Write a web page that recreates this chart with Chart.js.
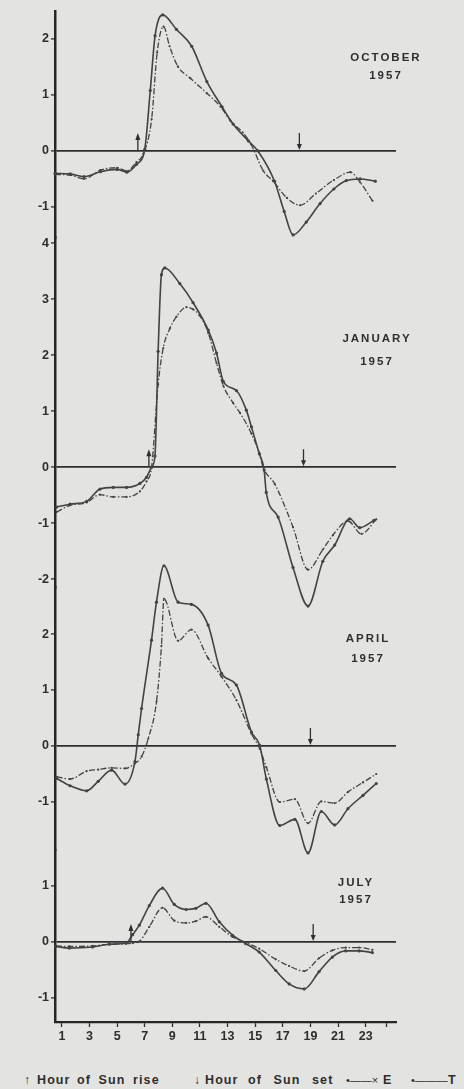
<!DOCTYPE html>
<html>
<head>
<meta charset="utf-8">
<script src="https://cdn.jsdelivr.net/npm/chart.js@4.4.1/dist/chart.umd.min.js"></script>
<style>
  body { margin: 0; background: #e3e3e1; width: 464px; height: 1089px; overflow: hidden; position: relative; font-family: "Liberation Sans", sans-serif; color: #2e2e2e; }
  #wrap { position: absolute; left: 0; top: 0; width: 464px; height: 1058px; }
  .month { position: absolute; width: 120px; text-align: center; font-size: 11.5px; font-weight: bold; letter-spacing: 2px; }
  .leg { position: absolute; top: 1072px; font-size: 12.5px; font-weight: bold; line-height: 16px; letter-spacing: 1.1px; white-space: nowrap; }
</style>
</head>
<body>
<div id="wrap"><canvas id="chart"></canvas></div>

<div class="month" style="left:326px; top:48px; line-height:18px;">OCTOBER<br>1957</div>
<div class="month" style="left:317px; top:327px; line-height:23px;">JANUARY<br>1957</div>
<div class="month" style="left:308px; top:628px; line-height:20px;">APRIL<br>1957</div>
<div class="month" style="left:296px; top:874px; line-height:17px;">JULY<br>1957</div>

<span class="leg" style="left:24px; font-size:12px; font-weight:normal;">↑</span>
<span class="leg" style="left:37px;">Hour</span>
<span class="leg" style="left:77px; word-spacing:3px;">of Sun rise</span>
<span class="leg" style="left:194px; font-size:12px; font-weight:normal;">↓</span>
<span class="leg" style="left:205px;">Hour</span>
<span class="leg" style="left:248px; word-spacing:7px;">of Sun set</span>
<span class="leg" style="left:346px; font-size:11px; letter-spacing:0; font-weight:normal;">•——×</span>
<span class="leg" style="left:383px;">E</span>
<span class="leg" style="left:411px; font-size:11px; letter-spacing:0; font-weight:normal;">•———</span>
<span class="leg" style="left:448px;">T</span>

<script>
// hours of day (x) and field values (y)
const octEHours = [0.5, 1.6, 2.6, 3.8, 5.0, 5.7, 6.4, 7.0, 7.4, 7.75, 8.3, 9.3, 10.4, 11.5, 12.6, 13.4, 14.5, 15.2, 16.4, 17.1, 17.75, 18.7, 19.7, 20.7, 21.6, 22.6, 23.7];
const octEValues = [-0.40, -0.41, -0.46, -0.37, -0.33, -0.38, -0.24, 0.03, 1.08, 2.06, 2.43, 2.17, 1.87, 1.24, 0.79, 0.48, 0.18, 0.0, -0.54, -1.08, -1.50, -1.27, -0.94, -0.68, -0.53, -0.50, -0.54];
const octTHours = [0.5, 1.6, 2.6, 3.8, 5.0, 5.7, 6.4, 6.9, 7.5, 7.9, 8.36, 8.8, 9.4, 10.3, 11.5, 12.5, 13.2, 14.1, 14.7, 15.6, 16.3, 17.3, 18.25, 19.4, 20.7, 21.9, 22.6, 23.5];
const octTValues = [-0.42, -0.43, -0.50, -0.34, -0.30, -0.36, -0.20, -0.05, 0.57, 1.76, 2.22, 1.87, 1.51, 1.30, 1.03, 0.79, 0.54, 0.33, 0.12, -0.36, -0.54, -0.84, -0.97, -0.76, -0.52, -0.38, -0.56, -0.89];

const janEHours = [0.62, 1.59, 2.79, 3.76, 4.72, 5.68, 6.65, 7.13, 7.49, 7.74, 7.97, 8.21, 8.46, 9.54, 10.5, 11.6, 12.2, 12.7, 13.64, 14.36, 14.73, 15.3, 15.65, 15.8, 16.66, 17.74, 18.83, 19.9, 20.76, 21.85, 22.57, 23.6];
const janEValues = [-0.71, -0.66, -0.61, -0.39, -0.36, -0.36, -0.29, -0.18, 0.0, 0.2, 2.07, 3.44, 3.56, 3.28, 2.94, 2.45, 2.04, 1.53, 1.37, 1.02, 0.72, 0.24, -0.05, -0.45, -0.89, -1.79, -2.48, -1.68, -1.39, -0.92, -1.08, -0.95];
const janTHours = [0.62, 1.59, 2.79, 3.76, 4.72, 5.68, 6.65, 7.13, 7.49, 7.97, 8.34, 8.82, 9.3, 10.02, 10.5, 10.98, 11.6, 12.2, 12.7, 13.4, 13.9, 14.73, 15.3, 15.57, 16.42, 17.74, 18.83, 19.9, 20.64, 21.72, 22.69, 23.77];
const janTValues = [-0.80, -0.68, -0.63, -0.49, -0.53, -0.53, -0.43, -0.25, -0.01, 1.48, 2.13, 2.48, 2.69, 2.86, 2.82, 2.71, 2.40, 1.86, 1.45, 1.15, 0.97, 0.6, 0.25, 0.0, -0.30, -1.07, -1.83, -1.47, -1.21, -0.96, -1.19, -0.93];

const aprEHours = [0.62, 1.59, 2.79, 3.63, 4.6, 5.57, 6.29, 6.53, 6.77, 7.49, 7.85, 8.39, 9.42, 10.38, 11.59, 12.56, 13.64, 14.73, 15.33, 15.81, 16.78, 17.87, 18.83, 19.79, 20.76, 21.72, 22.81, 23.77];
const aprEValues = [-0.58, -0.71, -0.80, -0.63, -0.43, -0.68, -0.28, 0.20, 0.67, 1.89, 2.57, 3.22, 2.57, 2.53, 2.16, 1.30, 1.09, 0.25, 0.01, -0.59, -1.42, -1.31, -1.91, -1.17, -1.41, -1.12, -0.88, -0.67];
const aprTHours = [0.62, 1.59, 2.79, 3.63, 4.6, 5.57, 6.29, 6.77, 7.25, 7.85, 8.21, 8.39, 9.42, 10.38, 11.59, 12.56, 13.64, 14.73, 15.33, 15.81, 16.78, 17.87, 18.83, 19.79, 20.76, 21.72, 22.81, 23.77];
const aprTValues = [-0.55, -0.59, -0.45, -0.42, -0.39, -0.40, -0.31, -0.19, 0.13, 0.79, 1.79, 2.63, 1.88, 2.08, 1.57, 1.24, 0.82, 0.22, -0.05, -0.38, -1.0, -0.95, -1.38, -0.99, -1.02, -0.82, -0.65, -0.5];

const julHours = [0.57, 1.54, 3.23, 4.44, 5.64, 6.12, 6.61, 7.33, 8.29, 9.14, 10.0, 10.7, 11.43, 12.4, 13.36, 14.32, 15.29, 16.49, 17.46, 18.55, 19.63, 20.59, 21.56, 22.53, 23.49];
const julEValues = [-0.08, -0.11, -0.09, -0.04, -0.02, 0.13, 0.30, 0.65, 0.96, 0.67, 0.58, 0.60, 0.69, 0.36, 0.12, -0.03, -0.18, -0.51, -0.75, -0.84, -0.53, -0.27, -0.16, -0.16, -0.19];
const julTValues = [-0.07, -0.08, -0.07, -0.04, -0.03, -0.02, 0.01, 0.27, 0.61, 0.38, 0.34, 0.37, 0.45, 0.27, 0.09, -0.01, -0.12, -0.31, -0.43, -0.52, -0.29, -0.15, -0.10, -0.10, -0.14];

// panels top to bottom
const panelIds = ["yOct", "yJan", "yApr", "yJul"];
const sunriseHours = [6.5, 7.3, null, 6.0];
const sunsetHours = [18.2, 18.5, 19.0, 19.2];

const octTicks = [-1, 0, 1, 2];
const janTicks = [-2, -1, 0, 1, 2, 3, 4];
const aprTicks = [-1, 0, 1, 2];
const julTicks = [-1, 0, 1];

const xTicks = [1, 3, 5, 7, 9, 11, 13, 15, 17, 19, 21, 23, 24.5];
const xTickLabels = ["1", "3", "5", "7", "9", "11", "13", "15", "17", "19", "21", "23", ""];

const ink = "#2e2e2e";
const lineInk = "#434343";
const tickFont = { family: "Liberation Sans", size: 12.5, weight: "bold" };

function series(hours, values, yAxisID, isE) {
  return {
    data: hours.map((h, i) => ({ x: h, y: values[i] })),
    yAxisID: yAxisID,
    borderColor: lineInk,
    backgroundColor: lineInk,
    borderWidth: isE ? 1.6 : 1.3,
    borderDash: isE ? [] : [6, 2, 1.5, 2],
    pointRadius: isE ? 1.6 : 1.1,
    pointBorderWidth: 0,
    cubicInterpolationMode: "monotone",
    clip: false
  };
}

function panelAxis(min, max, ticks, weight) {
  return {
    type: "linear",
    position: "left",
    stack: "months",
    stackWeight: max - min,
    weight: weight,
    min: min,
    max: max,
    afterBuildTicks: s => { s.ticks = ticks.map(v => ({ value: v })); },
    afterFit: s => { s.width = 50; },
    ticks: { font: tickFont, color: ink, padding: 2, autoSkip: false, callback: v => String(v) },
    grid: {
      color: c => (c.tick && c.tick.value === 0 ? ink : "rgba(0,0,0,0)"),
      lineWidth: 1.8,
      tickColor: ink,
      tickWidth: 1.3,
      tickLength: 4
    },
    border: { color: "#262626", width: 2.5 }
  };
}

const sunArrows = {
  id: "sunArrows",
  afterDatasetsDraw(chart) {
    const ctx = chart.ctx;
    const xs = chart.scales.x;
    ctx.save();
    ctx.strokeStyle = ink;
    ctx.fillStyle = ink;
    ctx.lineWidth = 1.3;
    panelIds.forEach((id, i) => {
      const y0 = chart.scales[id].getPixelForValue(0);
      if (sunriseHours[i] !== null) {
        const px = xs.getPixelForValue(sunriseHours[i]);
        ctx.beginPath(); ctx.moveTo(px, y0 - 1); ctx.lineTo(px, y0 - 13); ctx.stroke();
        ctx.beginPath(); ctx.moveTo(px, y0 - 18); ctx.lineTo(px - 2.5, y0 - 11); ctx.lineTo(px + 2.5, y0 - 11); ctx.closePath(); ctx.fill();
      }
      const sx = xs.getPixelForValue(sunsetHours[i]);
      ctx.beginPath(); ctx.moveTo(sx, y0 - 18); ctx.lineTo(sx, y0 - 6); ctx.stroke();
      ctx.beginPath(); ctx.moveTo(sx, y0 - 1); ctx.lineTo(sx - 2.5, y0 - 7); ctx.lineTo(sx + 2.5, y0 - 7); ctx.closePath(); ctx.fill();
    });
    ctx.restore();
  }
};

new Chart(document.getElementById("chart"), {
  type: "line",
  data: {
    datasets: [
      series(octEHours, octEValues, "yOct", true),
      series(octTHours, octTValues, "yOct", false),
      series(janEHours, janEValues, "yJan", true),
      series(janTHours, janTValues, "yJan", false),
      series(aprEHours, aprEValues, "yApr", true),
      series(aprTHours, aprTValues, "yApr", false),
      series(julHours, julEValues, "yJul", true),
      series(julHours, julTValues, "yJul", false)
    ]
  },
  options: {
    responsive: true,
    maintainAspectRatio: false,
    animation: false,
    layout: { padding: { top: 11, left: 5, right: 68, bottom: 0 } },
    plugins: { legend: { display: false }, tooltip: { enabled: false } },
    scales: {
      x: {
        type: "linear",
        position: "bottom",
        min: 0.5,
        max: 25.2,
        afterBuildTicks: s => { s.ticks = xTicks.map(v => ({ value: v })); },
        afterFit: s => { s.height = 36; },
        ticks: { font: tickFont, color: ink, padding: 2, autoSkip: false, maxRotation: 0, callback: (v, i) => xTickLabels[i] },
        grid: { drawOnChartArea: false, tickColor: ink, tickWidth: 1.3, tickLength: 5 },
        border: { color: "#262626", width: 2.2 }
      },
      yOct: panelAxis(-1.55, 2.5, octTicks, 4),
      yJan: panelAxis(-2.15, 4.1, janTicks, 3),
      yApr: panelAxis(-1.86, 2.83, aprTicks, 2),
      yJul: panelAxis(-1.43, 1.64, julTicks, 1)
    }
  },
  plugins: [sunArrows]
});
</script>
</body>
</html>
